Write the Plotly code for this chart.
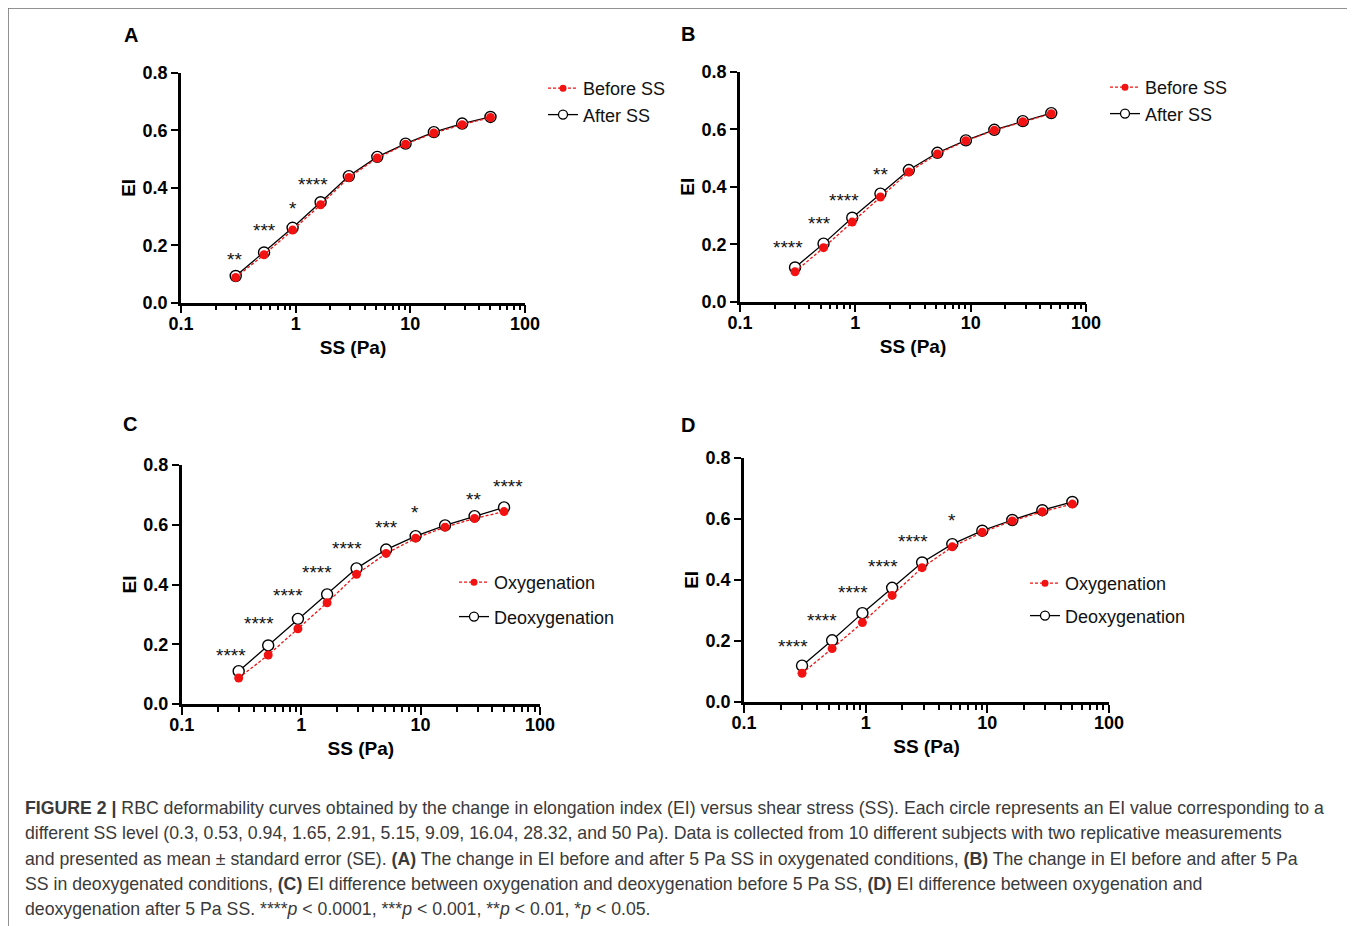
import numpy as np
import plotly.graph_objects as go

# ---------------- data ----------------
ss = [0.3, 0.53, 0.94, 1.65, 2.91, 5.15, 9.09, 16.04, 28.32, 50]

A_before = [0.088, 0.167, 0.253, 0.341, 0.436, 0.504, 0.552, 0.591, 0.620, 0.645]
A_after = [0.093, 0.175, 0.261, 0.350, 0.441, 0.508, 0.554, 0.594, 0.624, 0.647]
B_before = [0.104, 0.188, 0.277, 0.364, 0.451, 0.514, 0.560, 0.596, 0.626, 0.654]
B_after = [0.119, 0.202, 0.292, 0.376, 0.458, 0.518, 0.561, 0.598, 0.628, 0.656]
C_oxy = [0.087, 0.164, 0.252, 0.339, 0.434, 0.504, 0.555, 0.592, 0.621, 0.644]
C_deoxy = [0.110, 0.196, 0.285, 0.367, 0.454, 0.517, 0.562, 0.598, 0.629, 0.658]
D_oxy = [0.094, 0.175, 0.260, 0.349, 0.440, 0.508, 0.556, 0.593, 0.623, 0.648]
D_deoxy = [0.119, 0.202, 0.291, 0.374, 0.457, 0.517, 0.561, 0.596, 0.628, 0.655]

# significance labels: (SS position, EI position, label)
A_sig = [(0.295, 0.160, "**"), (0.54, 0.262, "***"), (0.94, 0.337, "*"), (1.42, 0.421, "****")]
B_sig = [(0.259, 0.200, "****"), (0.485, 0.283, "***"), (0.794, 0.363, "****"), (1.65, 0.452, "**")]
C_sig = [(0.257, 0.173, "****"), (0.441, 0.280, "****"), (0.772, 0.373, "****"),
         (1.35, 0.451, "****"), (2.42, 0.530, "****"), (5.18, 0.602, "***"),
         (8.94, 0.652, "*"), (27.9, 0.696, "**"), (54.3, 0.739, "****")]
D_sig = [(0.254, 0.193, "****"), (0.437, 0.278, "****"), (0.791, 0.369, "****"),
         (1.38, 0.452, "****"), (2.47, 0.537, "****"), (5.1, 0.604, "*")]

panels = [
    dict(letter="A", red=A_before, black=A_after, red_name="Before SS", black_name="After SS", sig=A_sig),
    dict(letter="B", red=B_before, black=B_after, red_name="Before SS", black_name="After SS", sig=B_sig),
    dict(letter="C", red=C_oxy, black=C_deoxy, red_name="Oxygenation", black_name="Deoxygenation", sig=C_sig),
    dict(letter="D", red=D_oxy, black=D_deoxy, red_name="Oxygenation", black_name="Deoxygenation", sig=D_sig),
]

caption_lines = [
    "<b>FIGURE 2 |</b> RBC deformability curves obtained by the change in elongation index (EI) versus shear stress (SS). Each circle represents an EI value corresponding to a",
    "different SS level (0.3, 0.53, 0.94, 1.65, 2.91, 5.15, 9.09, 16.04, 28.32, and 50 Pa). Data is collected from 10 different subjects with two replicative measurements",
    "and presented as mean ± standard error (SE). <b>(A)</b> The change in EI before and after 5 Pa SS in oxygenated conditions, <b>(B)</b> The change in EI before and after 5 Pa",
    "SS in deoxygenated conditions, <b>(C)</b> EI difference between oxygenation and deoxygenation before 5 Pa SS, <b>(D)</b> EI difference between oxygenation and",
    "deoxygenation after 5 Pa SS. ****<i>p</i> &lt; 0.0001, ***<i>p</i> &lt; 0.001, **<i>p</i> &lt; 0.01, *<i>p</i> &lt; 0.05.",
]

# ---------------- layout geometry (pixels in the page) ----------------
W, H = 1355, 926
OFF = 8  # page body margin that offsets the figure
# (x_left, x_right, y_top, y_bottom) of each plot area in pixels
boxes = [(181, 525, 73, 302.7), (740, 1086, 71.7, 301.7),
         (181.7, 540, 465, 704), (744, 1109, 457.7, 702)]
letter_pos = [(131, 35), (688, 34), (130, 424), (688, 425)]
# (left x, top y, gap between entries)
legend_pos = [(543, 70, 0), (1105, 69, 0), (454, 564, 8), (1025, 565, 6)]

FONT = "Liberation Sans, Arial, Helvetica, sans-serif"
RED = "#f21212"

def px(x):
    return (x - OFF) / W

def py(y):
    return 1 - (y - OFF) / H

fig = go.Figure()
annotations = []

for i, p in enumerate(panels):
    n = "" if i == 0 else str(i + 1)
    xa, ya = "x" + n, "y" + n
    leg = "legend" + n
    # data traces
    fig.add_trace(go.Scatter(x=ss, y=p["black"], mode="lines+markers", xaxis=xa, yaxis=ya,
                             line=dict(color="black", width=1.3),
                             marker=dict(symbol="circle", size=11, color="white",
                                         line=dict(color="black", width=1.4)),
                             showlegend=False, hoverinfo="x+y"))
    fig.add_trace(go.Scatter(x=ss, y=p["red"], mode="lines+markers", xaxis=xa, yaxis=ya,
                             line=dict(color=RED, width=1.3, dash="3px,2px"),
                             marker=dict(symbol="circle", size=9, color=RED),
                             showlegend=False, hoverinfo="x+y"))
    # legend entries (small symbols as in the original)
    fig.add_trace(go.Scatter(x=[None], y=[None], mode="lines+markers", xaxis=xa, yaxis=ya,
                             name=p["red_name"], legend=leg, legendgroup=f"r{i}",
                             line=dict(color=RED, width=1.3, dash="3px,2px"),
                             marker=dict(symbol="circle", size=7, color=RED)))
    fig.add_trace(go.Scatter(x=[None], y=[None], mode="lines+markers", xaxis=xa, yaxis=ya,
                             name=p["black_name"], legend=leg, legendgroup=f"b{i}",
                             line=dict(color="black", width=1.3),
                             marker=dict(symbol="circle", size=9, color="white",
                                         line=dict(color="black", width=1.3))))

    x0, x1, y0, y1 = boxes[i]
    axis_common = dict(showgrid=False, zeroline=False, showline=True, linecolor="black",
                       linewidth=2.5, ticks="outside", tickcolor="black", tickwidth=2,
                       automargin=False,
                       tickfont=dict(family=FONT, size=18, color="black", weight="bold"),
                       title_font=dict(family=FONT, size=19, color="black", weight="bold"))
    fig.update_layout(**{
        ("xaxis" + n): dict(axis_common, type="log", range=[-1, 2],
                            domain=[px(x0), px(x1)], anchor=ya,
                            tickvals=[0.1, 1, 10, 100], ticktext=["0.1", "1", "10", "100"],
                            ticklen=8, ticklabelstandoff=-5,
                            minor=dict(ticks="outside", ticklen=5, tickwidth=2, tickcolor="black",
                                       tickvals=[k * 10.0 ** e for e in (-1, 0, 1) for k in range(2, 10)]),
                            title=dict(text="SS (Pa)", standoff=8)),
        ("yaxis" + n): dict(axis_common, range=[0, 0.8], domain=[py(y1), py(y0)], anchor=xa,
                            tickvals=[0, 0.2, 0.4, 0.6, 0.8], tickformat=".1f", ticklen=7,
                            title=dict(text="EI", standoff=2)),
        leg: dict(x=px(legend_pos[i][0]), y=py(legend_pos[i][1]), xanchor="left", yanchor="top",
                  bgcolor="rgba(0,0,0,0)", tracegroupgap=legend_pos[i][2],
                  font=dict(family=FONT, size=18, color="#111111"), itemwidth=30),
    })

    # significance stars
    for (sx, sy, lab) in p["sig"]:
        annotations.append(dict(x=np.log10(sx), y=sy, xref=xa, yref=ya, text=lab,
                                showarrow=False, xanchor="center", yanchor="middle", yshift=-3,
                                font=dict(family=FONT, size=19, color="#111111")))
    # panel letter
    lx, ly = letter_pos[i]
    annotations.append(dict(x=px(lx), y=py(ly), xref="paper", yref="paper", text=p["letter"],
                            showarrow=False, xanchor="center", yanchor="middle",
                            font=dict(family=FONT, size=20, color="black", weight="bold")))

# caption
cap_y = [808, 833, 858.5, 884, 909]
for line, yy in zip(caption_lines, cap_y):
    annotations.append(dict(x=px(23), y=py(yy), xref="paper", yref="paper", text=line,
                            showarrow=False, xanchor="left", yanchor="middle",
                            font=dict(family="Liberation Sans, Arial, sans-serif",
                                      size=17.7, color="#3a3a3a")))

shapes = [
    dict(type="line", xref="paper", yref="paper", x0=px(8), x1=1, y0=py(8), y1=py(8),
         line=dict(color="#6e6e6e", width=1.5)),
    dict(type="line", xref="paper", yref="paper", x0=px(8), x1=px(8), y0=py(8), y1=0,
         line=dict(color="#6e6e6e", width=1.5)),
]

fig.update_layout(template="none", width=W, height=H, margin=dict(l=0, r=0, t=0, b=0, pad=0),
                  paper_bgcolor="white", plot_bgcolor="white",
                  annotations=annotations, shapes=shapes,
                  font=dict(family=FONT, color="black"))

fig.write_html("out.html")
